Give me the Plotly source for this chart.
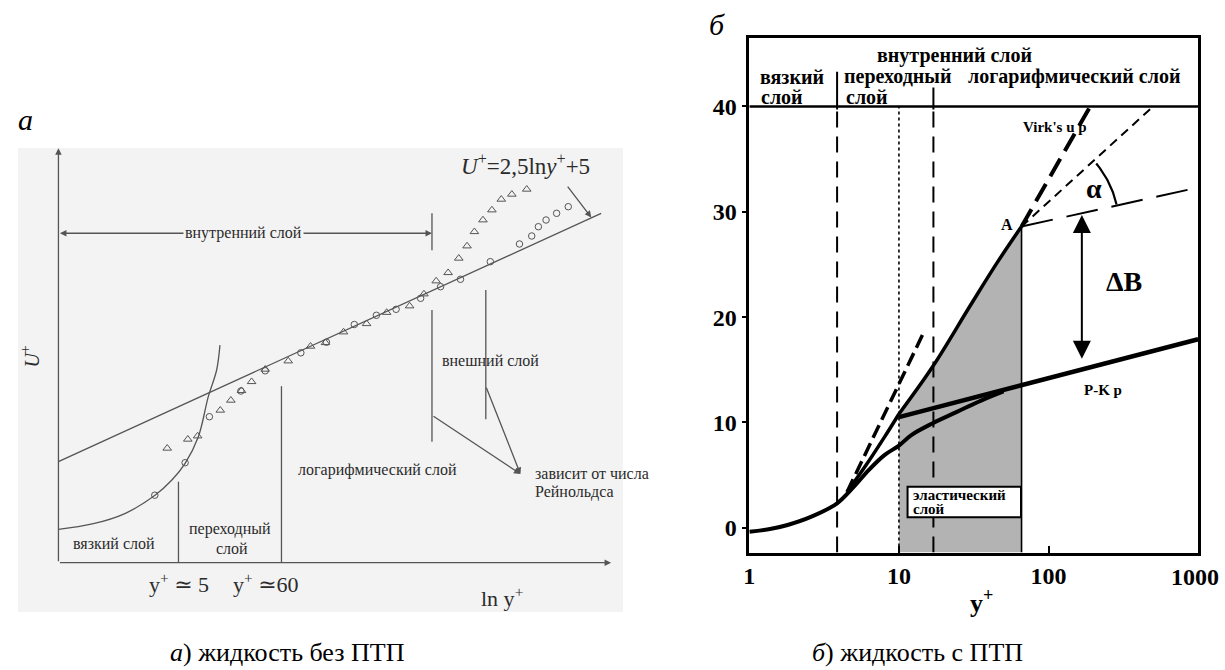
import math
import plotly.graph_objects as go

W, H = 1225, 670

# ---------------- Panel a (schematic, arbitrary units) ----------------
log_line_x = [0.0, 98.8]
log_line_y = [24.4, 84.3]
visc_x = [0.0, 6.16, 12.19, 17.63, 20.65, 23.06, 25.47, 27.28, 28.8, 29.4]
visc_y = [8.06, 9.34, 11.92, 16.34, 19.96, 23.99, 30.4, 40.06, 46.5, 52.5]
circ_x = [17.54, 23.06, 27.48, 33.21, 37.64, 44.13, 48.79, 53.86, 57.88, 61.47,
          65.94, 69.57, 73.19, 78.62, 83.93, 86.16, 87.37, 88.77, 90.69, 92.81]
circ_y = [16.29, 24.13, 35.23, 41.43, 46.31, 50.65, 53.21, 57.48, 59.70, 61.15,
          63.80, 66.60, 68.39, 72.64, 76.91, 78.84, 81.08, 82.70, 84.31, 85.91]
tri_x = [19.80, 23.55, 25.34, 29.46, 31.39, 33.33, 35.16, 37.64, 41.83, 45.89,
         48.61, 51.90, 56.09, 59.75, 63.93, 66.54, 68.77, 70.94, 72.88, 74.38,
         75.72, 77.28, 78.91, 80.62, 82.54, 85.25]
tri_y = [27.61, 29.78, 30.57, 36.78, 39.19, 41.51, 43.68, 46.67, 48.67, 52.22,
         53.09, 55.67, 57.67, 60.38, 61.95, 64.84, 67.98, 69.98, 73.46, 76.42,
         79.87, 82.70, 85.11, 87.69, 88.90, 90.11]
# layer boundaries (x, y_bottom, y_top)
bounds_a = [(21.85, 0.0, 19.55), (40.6, 0.0, 42.6), (68.0, 75.4, 84.3),
            (68.0, 29.2, 61.0), (77.8, 34.6, 65.8)]

# ---------------- Panel b (y+ log scale, u+) ----------------
newt_yp = [1, 1.4, 1.8, 2.6, 3.86, 5.0, 6.3, 8.0, 10, 12.1, 16.7, 24.4, 35.7, 50]
newt_u = [-0.38, -0.1, 0.26, 1.05, 2.32, 3.9, 5.5, 6.9, 7.8, 8.8, 9.9, 11.0, 12.1, 12.95]
pk_yp = [10, 1000]
pk_u = [10.5, 17.9]
poly_yp = [4.5, 6, 8, 10]
poly_u = [3.4, 5.9, 8.6, 10.8]
elas_yp = [10, 17, 30, 45, 66]
elas_u = [10.8, 15.4, 21.1, 25.1, 28.6]
dash_yp = [4.5, 14.7]
dash_u = [3.4, 18.6]
virk_yp = [66, 190]
virk_u = [28.6, 40]
thin_yp = [66, 500]
thin_u = [28.6, 40]
shift_yp = [66, 1000]
shift_u = [28.6, 32.3]
v_dashed = [3.86, 17.0]
v_dotted = 10.0
A_yp, A_u = 66, 28.6
dB_yp, dB_top, dB_bot = 167, 29.7, 15.9
y_lo, y_hi = -2.35, 46.5
xticks = [1, 10, 100, 1000]
xticklabels = ['1', '10', '100', '']   # "1000" is placed as an annotation (kept inside page)
yticks = [0, 10, 20, 30, 40]

GRAY = '#555555'
TXT = '#2b2b2b'
SERIF = 'Liberation Serif, DejaVu Serif, serif'
XR = 1198  # right edge of panel b in pixels

fig = go.Figure()

def addl(x, y, color='black', width=2, dash='solid', xa='x2', ya='y2', shape='linear'):
    fig.add_trace(go.Scatter(x=x, y=y, mode='lines', xaxis=xa, yaxis=ya,
                             line=dict(color=color, width=width, dash=dash, shape=shape),
                             showlegend=False, hoverinfo='skip'))

# ---- panel a traces ----
addl(log_line_x, log_line_y, GRAY, 1.3, xa='x', ya='y')
addl(visc_x, visc_y, GRAY, 1.3, xa='x', ya='y', shape='spline')
for bx, b0, b1 in bounds_a:
    addl([bx, bx], [b0, b1], GRAY, 1.3, xa='x', ya='y')
fig.add_trace(go.Scatter(x=circ_x, y=circ_y, mode='markers', xaxis='x', yaxis='y',
                         marker=dict(symbol='circle-open', size=6.5, color=GRAY, line=dict(width=1)),
                         showlegend=False, hoverinfo='skip'))
fig.add_trace(go.Scatter(x=tri_x, y=tri_y, mode='markers', xaxis='x', yaxis='y',
                         marker=dict(symbol='triangle-up-open', size=7.5, color=GRAY, line=dict(width=1)),
                         showlegend=False, hoverinfo='skip'))

# ---- panel b traces ----
shade_x = [elas_yp[0]] + elas_yp + [elas_yp[-1]]
shade_y = [y_lo] + elas_u + [y_lo]
fig.add_trace(go.Scatter(x=shade_x, y=shade_y, mode='lines', fill='toself',
                         fillcolor='#b3b3b3', line=dict(width=0), xaxis='x2', yaxis='y2',
                         showlegend=False, hoverinfo='skip'))
addl([A_yp, A_yp], [y_lo, A_u], 'black', 1.6)
for vx in v_dashed:
    addl([vx, vx], [y_lo, 40], 'black', 2, '16px,9px')
addl([v_dotted, v_dotted], [y_lo, 40], 'black', 1.6, '3px,3px')
addl([v_dashed[0]] * 2, [39.7, 43.3], 'black', 2)
addl([v_dashed[1]] * 2, [39.7, 41.8], 'black', 2)
addl([xticks[0], xticks[-1]], [40, 40], 'black', 2.5)
addl(newt_yp, newt_u, 'black', 4, shape='spline')
addl(pk_yp, pk_u, 'black', 4.5)
addl(poly_yp, poly_u, 'black', 3.5, shape='spline')
addl(elas_yp, elas_u, 'black', 3.5, shape='spline')
addl(dash_yp, dash_u, 'black', 3.5, '14px,6px')
addl(virk_yp, virk_u, 'black', 4, '20px,9px')
addl(thin_yp, thin_u, 'black', 2, '9px,6px')
addl(shift_yp, shift_u, 'black', 2, '32px,14px')

# alpha arc around point A (radius in screen pixels)
px_dec = (XR - 747) / 3.0
px_unit = (552.5 - 38) / (y_hi - y_lo)
r = 98
th = [math.radians(13 + i * 27 / 30) for i in range(31)]
arc_x = [10 ** (math.log10(A_yp) + r * math.cos(t) / px_dec) for t in th]
arc_y = [A_u + r * math.sin(t) / px_unit for t in th]
addl(arc_x, arc_y, 'black', 2.2)

def P(px, py):
    return px / W, 1 - py / H

ann = []
def text(px, py, s, size=16, color=TXT, xanchor='center', weight='normal', angle=0, bg=None, family=SERIF):
    x, y = P(px, py)
    d = dict(x=x, y=y, xref='paper', yref='paper', text=s, showarrow=False,
             xanchor=xanchor, yanchor='middle', textangle=angle,
             font=dict(family=family, size=size, color=color, weight=weight))
    if bg:
        d['bgcolor'] = bg
    ann.append(d)

def arrow(x, y, ax, ay, xr='x', yr='y', color=GRAY, width=1.3, head=2, size=1.0, side='end'):
    ann.append(dict(x=x, y=y, ax=ax, ay=ay, xref=xr, yref=yr, axref=xr, ayref=yr,
                    text='', showarrow=True, arrowhead=head, startarrowhead=head,
                    arrowsize=size, startarrowsize=size,
                    arrowwidth=width, arrowcolor=color, arrowside=side, standoff=0, startstandoff=0))

# panel a axes & arrows
arrow(0, 100, 0, 0)
arrow(100.6, 0, 0, 0)
arrow(68.0, 79.5, 0, 79.5, side='end+start')
arrow(84.1, 21.4, 68.0, 35.6)
arrow(84.1, 21.4, 77.8, 42.6)
arrow(97.0, 83.3, 92.5, 91.1)

BG = '#f3f3f3'
text(239, 233.3, 'внутренний слой', 16, bg=BG)
text(486.7, 360, 'внешний слой', 16)
text(373.7, 470, 'логарифмический слой', 16)
text(530, 473.3, 'зависит от числа', 16, xanchor='left')
text(530, 491.7, 'Рейнольдса', 16, xanchor='left')
text(108.3, 543, 'вязкий слой', 16)
text(225.5, 529, 'переходный', 16)
text(226.7, 548, 'слой', 16)
text(174, 583.3, 'y<sup>+</sup> ≃ 5', 22)
text(261.7, 583.3, 'y<sup>+</sup> ≃60', 22)
text(498.3, 596.7, 'ln y<sup>+</sup>', 22)
text(24, 356.7, '<i>U</i><sup>+</sup>', 20, angle=-90)
text(521.7, 165, '<i>U</i><sup>+</sup>=2,5ln<i>y</i><sup>+</sup>+5', 23)
text(20, 120, '<i>а</i>', 30, color='black')
text(283, 652, '<i>а</i>) жидкость без ПТП', 26, color='black')

# panel b texts
B = 'bold'
text(714, 25, '<i>б</i>', 30, color='black')
text(953, 55, 'внутренний слой', 20, 'black', weight=B)
text(755.5, 76.7, 'вязкий', 20, 'black', 'left', B)
text(757, 96.7, 'слой', 20, 'black', 'left', B)
text(840, 76.7, 'переходный', 20, 'black', 'left', B)
text(842, 96.7, 'слой', 20, 'black', 'left', B)
text(964.5, 76.7, 'логарифмический слой', 20, 'black', 'left', B)
text(1053.7, 126.7, "Virk's u p", 15, 'black', weight=B)
text(1006, 224, 'A', 16, 'black', weight=B)
text(1093.3, 188.3, 'α', 28, 'black', weight=B)
text(1123.3, 281.7, 'ΔB', 28, 'black', weight=B)
text(1102.3, 390, 'P-K p', 15, 'black', weight=B)
text(909, 495, 'эластический', 15, 'black', 'left', B)
text(909, 508.5, 'слой', 15, 'black', 'left', B)
text(980, 601, 'y<sup>+</sup>', 26, 'black', weight=B)
text(1221, 577, str(xticks[-1]), 24, 'black', 'right', B)
text(916, 652, '<i>б</i>) жидкость с ПТП', 26, 'black')

lg = math.log10(dB_yp)
arrow(lg, dB_top, lg, dB_bot, xr='x2', yr='y2', color='black', width=2, head=2, size=1.8,
      side='end+start')

shapes = [
    dict(type='rect', xref='paper', yref='paper', x0=12 / W, x1=620 / W,
         y0=1 - 612 / H, y1=1 - 148 / H, fillcolor=BG, line=dict(width=0), layer='below'),
    dict(type='rect', xref='paper', yref='paper', x0=906 / W, x1=1020 / W,
         y0=1 - 517.3 / H, y1=1 - 486.7 / H, fillcolor='white',
         line=dict(color='black', width=2), layer='above'),
]

fig.update_layout(
    width=W, height=H, autosize=False,
    margin=dict(l=0, r=0, t=0, b=0),
    paper_bgcolor='white', plot_bgcolor='rgba(0,0,0,0)',
    showlegend=False,
    xaxis=dict(domain=[10 / W, 620 / W], range=[-7.736, 102.77], visible=False, anchor='y'),
    yaxis=dict(domain=[1 - 612 / H, 1 - 120 / H], range=[-11.897, 106.83], visible=False, anchor='x'),
    xaxis2=dict(domain=[747 / W, XR / W], type='log', range=[0, 3], anchor='y2',
                tickvals=xticks, ticktext=xticklabels, ticks='inside', ticklen=7,
                tickwidth=2, tickcolor='black', showline=True, linewidth=2.5, linecolor='black',
                mirror=True, showgrid=False, zeroline=False,
                tickfont=dict(family=SERIF, size=24, color='black', weight='bold')),
    yaxis2=dict(domain=[1 - 552.5 / H, 1 - 38 / H], range=[y_lo, y_hi], anchor='x2',
                tickvals=yticks, ticks='outside', ticklen=5, tickwidth=2, tickcolor='black',
                showline=True, linewidth=2.5, linecolor='black', mirror=True,
                showgrid=False, zeroline=False,
                tickfont=dict(family=SERIF, size=24, color='black', weight='bold')),
    annotations=ann,
    shapes=shapes,
)

fig.write_html('out.html', config={'displayModeBar': False},
               post_script="document.body.style.margin='0';"
                           "document.body.style.overflow='hidden';"
                           "document.documentElement.style.overflow='hidden';")
